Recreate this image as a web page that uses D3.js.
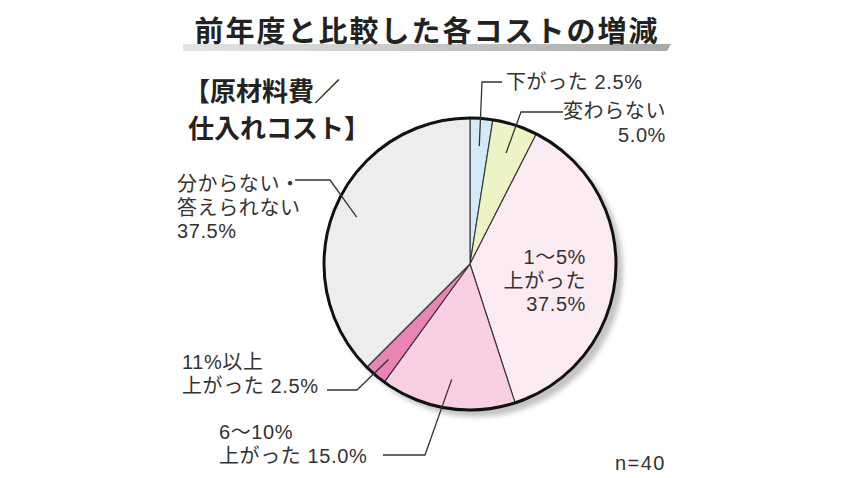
<!DOCTYPE html>
<html>
<head>
<meta charset="utf-8">
<script src="https://cdn.jsdelivr.net/npm/d3@7"></script>
<style>
  body { margin: 0; background: #fff; }
  svg { display: block; font-family: "Noto Sans CJK JP", "Noto Sans", sans-serif; }
  .lbl { font-family: "Liberation Sans", "Noto Sans CJK JP", sans-serif; }
</style>
</head>
<body>
<svg id="chart"></svg>
<script>
// Data (n=40)
const categories = ["下がった", "変わらない", "1〜5%上がった", "6〜10%上がった", "11%以上上がった", "分からない・答えられない"];
const shares = [2.5, 5.0, 37.5, 15.0, 2.5, 37.5];
const colors = ["#d3ebf8", "#eef3c6", "#fdebf4", "#f8cfe3", "#ea84b6", "#eceeed"];
const sampleSize = 40;

// Label text lines for each slice
const labelLines = [
    ["下がった 2.5%"],
    ["変わらない", "5.0%"],
    ["1〜5%", "上がった", "37.5%"],
    ["6〜10%", "上がった 15.0%"],
    ["11%以上", "上がった 2.5%"],
    ["分からない・", "答えられない", "37.5%"]
];

const width = 850;
const height = 478;
const svg = d3.select("#chart")
    .attr("width", width)
    .attr("height", height);

svg.append("rect").attr("width", width).attr("height", height).attr("fill", "#fff");

// Title with gray underline bar
const defs = svg.append("defs");
const grad = defs.append("linearGradient").attr("id", "barGrad");
grad.append("stop").attr("offset", "0%").attr("stop-color", "#e4e4e4");
grad.append("stop").attr("offset", "100%").attr("stop-color", "#a9a9a9");
defs.append("filter").attr("id", "blur")
    .append("feGaussianBlur").attr("stdDeviation", 2.5);

svg.append("path")
    .attr("d", "M183,44 L671,44 L667,51 L183,51 Z")
    .attr("fill", "url(#barGrad)");

svg.append("text")
    .attr("x", 427)
    .attr("y", 42)
    .attr("text-anchor", "middle")
    .attr("font-size", 29)
    .attr("font-weight", "bold")
    .attr("letter-spacing", 2)
    .attr("fill", "#222")
    .text("前年度と比較した各コストの増減");

svg.append("text")
    .attr("x", 184).attr("y", 101)
    .attr("font-size", 26)
    .attr("font-weight", "bold")
    .attr("fill", "#222")
    .text("【原材料費／");
svg.append("text")
    .attr("x", 188).attr("y", 138)
    .attr("font-size", 26)
    .attr("font-weight", "bold")
    .attr("fill", "#222")
    .text("仕入れコスト】");

// Pie
const cx = 470, cy = 264, radius = 146;
const g = svg.append("g").attr("transform", `translate(${cx},${cy})`);

const pie = d3.pie().sort(null).value(d => d)(shares);
const arc = d3.arc().innerRadius(0).outerRadius(radius);

// soft shadow to the lower right
g.append("circle")
    .attr("cx", 6).attr("cy", 6).attr("r", radius + 1)
    .attr("fill", "#c4c4c4")
    .attr("filter", "url(#blur)");

g.selectAll("path.slice")
    .data(pie)
    .enter()
    .append("path")
    .attr("class", "slice")
    .attr("d", arc)
    .attr("fill", (d, i) => colors[i])
    .attr("stroke", "#333")
    .attr("stroke-width", 1.1);

g.append("circle")
    .attr("r", radius)
    .attr("fill", "none")
    .attr("stroke", "#111")
    .attr("stroke-width", 3);

// Leader lines: start inside each slice at its mid angle, elbow and end are layout positions
const polar = (a, r) => [cx + r * Math.sin(a), cy - r * Math.cos(a)];
const midA = d => (d.startAngle + d.endAngle) / 2;

const leaders = [
    { i: 0, r: 0.81, pts: [[482, 82], [502, 82]] },
    { i: 1, r: 0.8, pts: [[521, 112], [563, 112]] },
    { i: 3, r: 0.8, pts: [[425, 455], [383, 455]] },
    { i: 4, r: 0.86, pts: [[357, 390], [327, 390]] },
    { i: 5, r: 0.84, pts: [[330, 180], [295, 180]] }
];

svg.selectAll("path.leader")
    .data(leaders)
    .enter()
    .append("path")
    .attr("class", "leader")
    .attr("d", d => d3.line()([polar(midA(pie[d.i]), radius * d.r), ...d.pts]))
    .attr("fill", "none")
    .attr("stroke", "#333")
    .attr("stroke-width", 1.3);

// Labels, one text element per line
const labelPos = [
    { x: 506, y: 89, anchor: "start" },
    { x: 666, y: 118, anchor: "end" },
    { x: 586, y: 264, anchor: "end" },
    { x: 219, y: 439, anchor: "start" },
    { x: 182, y: 369, anchor: "start" },
    { x: 177, y: 191, anchor: "start" }
];

labelLines.forEach((lines, i) => {
    const p = labelPos[i];
    lines.forEach((s, k) => {
        svg.append("text")
            .attr("class", "lbl")
            .attr("x", p.x)
            .attr("y", p.y + k * 23.5)
            .attr("font-size", 20)
            .attr("letter-spacing", 0.6)
            .attr("fill", "#333")
            .attr("text-anchor", p.anchor)
            .text(s);
    });
});

svg.append("text")
    .attr("class", "lbl")
    .attr("x", 666)
    .attr("y", 470)
    .attr("text-anchor", "end")
    .attr("font-size", 20)
    .attr("letter-spacing", 1.5)
    .attr("fill", "#333")
    .text(`n=${sampleSize}`);
</script>
</body>
</html>
